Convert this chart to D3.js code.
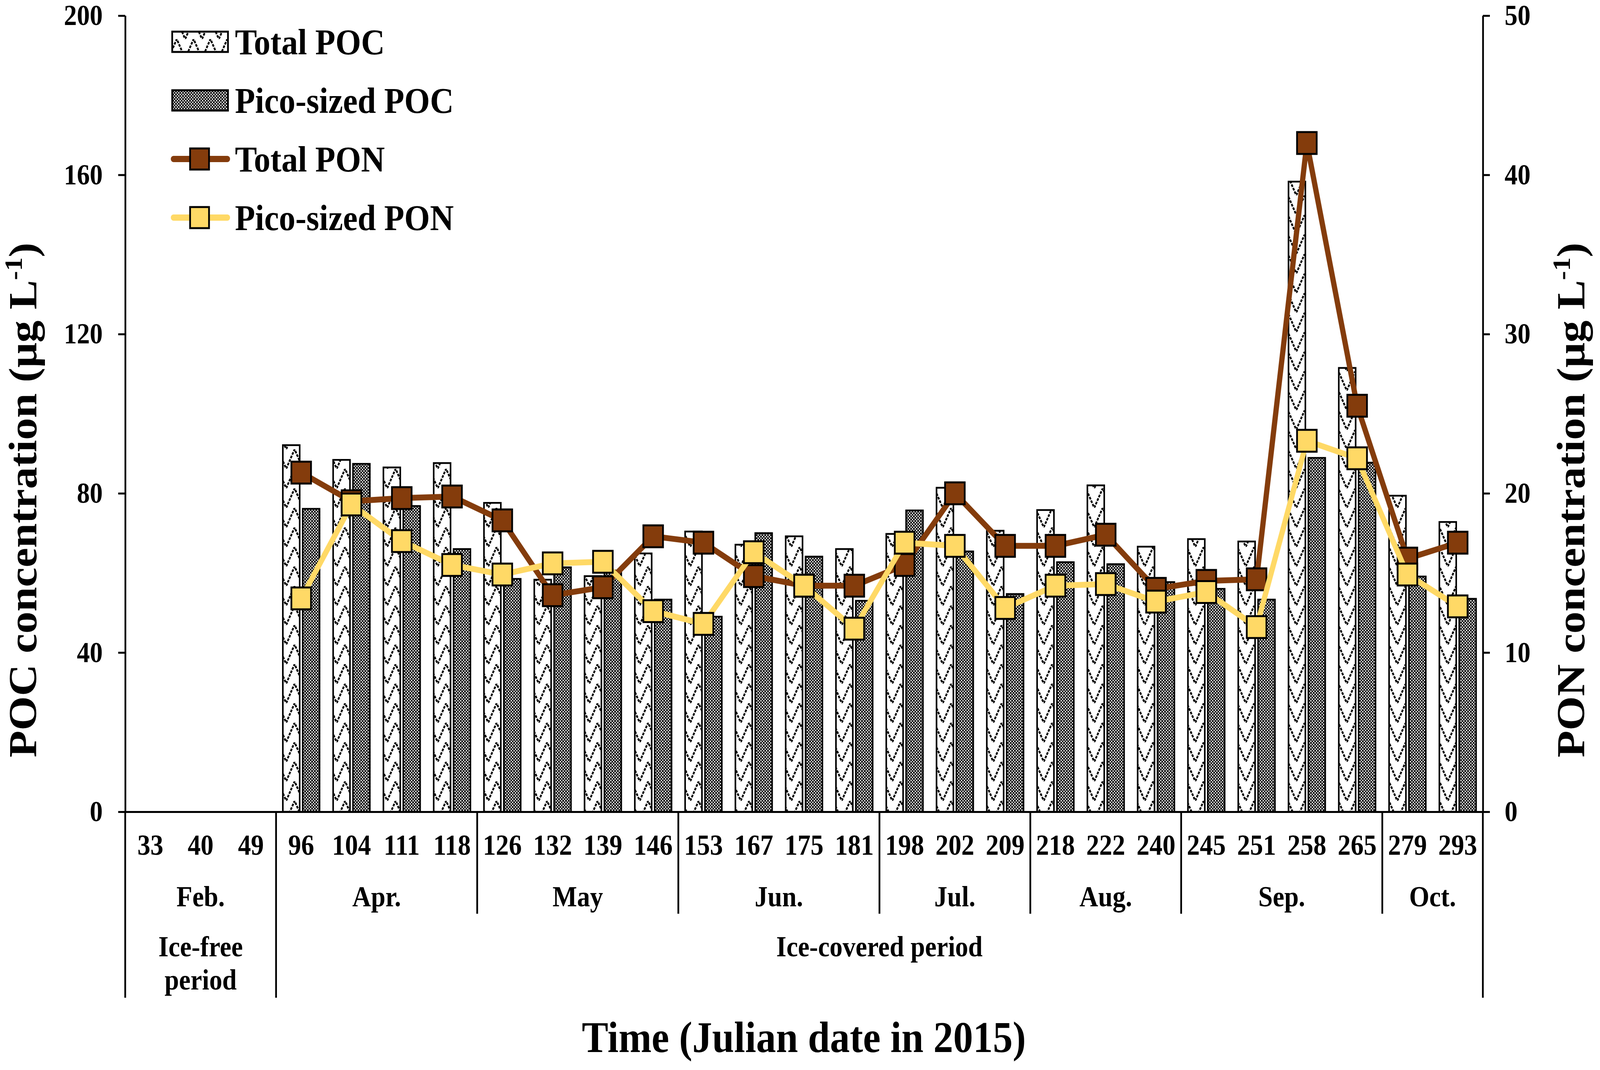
<!DOCTYPE html>
<html>
<head>
<meta charset="utf-8">
<script src="https://cdnjs.cloudflare.com/ajax/libs/d3/7.8.5/d3.min.js"></script>
<style>
  html, body { margin: 0; padding: 0; background: #fff; overflow: hidden; }
  #chart svg { display: block; width: 100vw; height: 100vh; }
  svg text { font-family: "Liberation Serif", "Times New Roman", serif; font-weight: bold; fill: #000; }
</style>
</head>
<body>
<div id="chart"></div>
<script>
// Julian dates sampled in 2015
const days = [33, 40, 49, 96, 104, 111, 118, 126, 132, 139, 146, 153, 167, 175, 181,
  198, 202, 209, 218, 222, 240, 245, 251, 258, 265, 279, 293];

// POC (ug/L), left axis; no data in February
const totalPOC = [null, null, null, 92.1, 88.4, 86.5, 87.6, 77.6, 58.3, 59.2, 64.9, 70.4, 67.1, 69.2, 66.0,
  69.8, 81.4, 70.6, 75.8, 82.0, 66.6, 68.5, 67.9, 158.3, 111.5, 79.4, 72.8];
const picoPOC = [null, null, null, 76.1, 87.4, 76.8, 66.0, 58.5, 61.4, 60.6, 53.3, 49.0, 70.0, 64.1, 53.0,
  75.7, 65.4, 54.7, 62.7, 62.2, 57.7, 56.0, 53.3, 88.9, 87.7, 59.1, 53.5];

// PON (ug/L), right axis
const totalPON = [null, null, null, 21.3, 19.5, 19.7, 19.8, 18.3, 13.6, 14.1, 17.3, 16.9, 14.8, 14.2, 14.2,
  15.5, 20.0, 16.7, 16.7, 17.4, 14.0, 14.5, 14.6, 42.0, 25.5, 15.9, 16.9];
const picoPON = [null, null, null, 13.4, 19.3, 17.0, 15.5, 14.9, 15.6, 15.7, 12.6, 11.8, 16.3, 14.2, 11.5,
  16.9, 16.7, 12.8, 14.2, 14.3, 13.2, 13.8, 11.6, 23.3, 22.2, 14.9, 12.9];

const monthLabels = ['Feb.', 'Apr.', 'May', 'Jun.', 'Jul.', 'Aug.', 'Sep.', 'Oct.'];
const monthCounts = [3, 4, 4, 4, 3, 3, 4, 2];
const periodLabels = [['Ice-free', 'period'], ['Ice-covered period']];
const periodCounts = [3, 24];

const pocTicks = [0, 40, 80, 120, 160, 200];
const ponTicks = [0, 10, 20, 30, 40, 50];

const BROWN = '#843C0C';
const YELLOW = '#FFD966';

const width = 4562;
const height = 2739;
const plotLeft = 357, plotRight = 4228, plotTop = 40, plotBottom = 2078;

// stretch the drawing to the whole window so it keeps the reference frame
const svg = d3.select('#chart')
  .append('svg')
  .attr('viewBox', `0 0 ${width} ${height}`)
  .attr('preserveAspectRatio', 'none');

// Fill patterns
const defs = svg.append('defs');

const zig = defs.append('pattern')
  .attr('id', 'zigzag')
  .attr('patternUnits', 'userSpaceOnUse')
  .attr('width', 48)
  .attr('height', 50);
zig.append('rect').attr('width', 48).attr('height', 50).attr('fill', '#fff');
zig.append('path')
  .attr('d', 'M0,50 L24,0 L48,50')
  .attr('fill', 'none')
  .attr('stroke', '#000')
  .attr('stroke-width', 5)
  .attr('stroke-dasharray', '7 3');

const dots = defs.append('pattern')
  .attr('id', 'dots')
  .attr('patternUnits', 'userSpaceOnUse')
  .attr('width', 8)
  .attr('height', 8);
dots.append('rect').attr('width', 8).attr('height', 8).attr('fill', '#000');
dots.append('rect').attr('x', 0).attr('y', 0).attr('width', 3.5).attr('height', 3.5).attr('fill', '#fff');
dots.append('rect').attr('x', 4).attr('y', 4).attr('width', 3.5).attr('height', 3.5).attr('fill', '#fff');

// Scales
const x = d3.scaleBand().domain(days).range([plotLeft, plotRight]).padding(0);
const yPOC = d3.scaleLinear().domain([0, 200]).range([plotBottom, plotTop]);
const yPON = d3.scaleLinear().domain([0, 50]).range([plotBottom, plotTop]);

const step = x.step();
const bw = step * 0.335;
const gap = step * 0.06;
const offset = (step - 2 * bw - gap) / 2;
const cx = (d) => x(d) + x.bandwidth() / 2;

const rows = days.map((d, i) => ({
  day: d, tPOC: totalPOC[i], pPOC: picoPOC[i], tPON: totalPON[i], pPON: picoPON[i],
}));

// Bars
svg.append('g')
  .selectAll('rect')
  .data(rows.filter((r) => r.tPOC != null))
  .enter()
  .append('rect')
  .attr('x', (r) => x(r.day) + offset)
  .attr('y', (r) => yPOC(r.tPOC))
  .attr('width', bw)
  .attr('height', (r) => yPOC(0) - yPOC(r.tPOC))
  .attr('fill', 'url(#zigzag)')
  .attr('stroke', '#000')
  .attr('stroke-width', 4.5);

svg.append('g')
  .selectAll('rect')
  .data(rows.filter((r) => r.pPOC != null))
  .enter()
  .append('rect')
  .attr('x', (r) => x(r.day) + offset + bw + gap)
  .attr('y', (r) => yPOC(r.pPOC))
  .attr('width', bw)
  .attr('height', (r) => yPOC(0) - yPOC(r.pPOC))
  .attr('fill', 'url(#dots)')
  .attr('stroke', '#000')
  .attr('stroke-width', 4.5);

// PON lines with square markers
const markerSize = 56;

function drawSeries(key, color) {
  const pts = rows.filter((r) => r[key] != null);
  const line = d3.line()
    .x((r) => cx(r.day))
    .y((r) => yPON(r[key]));

  const g = svg.append('g');
  g.append('path')
    .datum(pts)
    .attr('d', line)
    .attr('fill', 'none')
    .attr('stroke', color)
    .attr('stroke-width', 15)
    .attr('stroke-linejoin', 'round');

  g.selectAll('rect')
    .data(pts)
    .enter()
    .append('rect')
    .attr('x', (r) => cx(r.day) - markerSize / 2)
    .attr('y', (r) => yPON(r[key]) - markerSize / 2)
    .attr('width', markerSize)
    .attr('height', markerSize)
    .attr('fill', color)
    .attr('stroke', '#000')
    .attr('stroke-width', 5);
}

drawSeries('tPON', BROWN);
drawSeries('pPON', YELLOW);

// Axes
const axisL = svg.append('g')
  .attr('transform', `translate(${plotLeft},0)`)
  .call(d3.axisLeft(yPOC).tickValues(pocTicks).tickSize(20).tickSizeOuter(0).tickPadding(44));

const axisR = svg.append('g')
  .attr('transform', `translate(${plotRight},0)`)
  .call(d3.axisRight(yPON).tickValues(ponTicks).tickSize(20).tickSizeOuter(0).tickPadding(42));

[axisL, axisR].forEach((a) => {
  a.select('.domain').attr('stroke', '#000').attr('stroke-width', 5);
  a.selectAll('.tick line').attr('stroke', '#000').attr('stroke-width', 5);
  a.selectAll('.tick text')
    .attr('font-family', '"Liberation Serif", "Times New Roman", serif')
    .attr('font-weight', 'bold')
    .attr('font-size', 74)
    .attr('fill', '#000');
});

// Bottom axis with Julian day labels
const axisB = svg.append('g')
  .attr('transform', `translate(0,${plotBottom})`)
  .call(d3.axisBottom(x).tickSize(0).tickSizeOuter(0).tickPadding(0));

axisB.select('.domain').attr('stroke', '#000').attr('stroke-width', 5);
axisB.selectAll('.tick text')
  .attr('font-family', '"Liberation Serif", "Times New Roman", serif')
  .attr('font-weight', 'bold')
  .attr('font-size', 74)
  .attr('fill', '#000')
  .attr('dy', 0)
  .attr('y', 110);

// Month and period separators + labels
const boundaryX = (i) => (i >= days.length ? plotRight : x(days[i]));

const sep = svg.append('g').attr('stroke', '#000').attr('stroke-width', 5);

let start = 0;
const periodEdges = [0];
periodCounts.forEach((n) => { start += n; periodEdges.push(start); });

start = 0;
monthCounts.forEach((n, i) => {
  const a = start, b = start + n;
  svg.append('text')
    .attr('x', (boundaryX(a) + boundaryX(b)) / 2)
    .attr('y', 2320)
    .attr('text-anchor', 'middle')
    .attr('font-size', 74)
    .text(monthLabels[i]);
  if (a > 0 && !periodEdges.includes(a)) {
    sep.append('line')
      .attr('x1', boundaryX(a)).attr('x2', boundaryX(a))
      .attr('y1', plotBottom).attr('y2', 2339);
  }
  start = b;
});

periodEdges.forEach((i) => {
  sep.append('line')
    .attr('x1', boundaryX(i)).attr('x2', boundaryX(i))
    .attr('y1', plotBottom).attr('y2', 2554);
});

periodLabels.forEach((lines, p) => {
  const xm = (boundaryX(periodEdges[p]) + boundaryX(periodEdges[p + 1])) / 2;
  lines.forEach((t, k) => {
    svg.append('text')
      .attr('x', xm)
      .attr('y', 2448 + k * 85)
      .attr('text-anchor', 'middle')
      .attr('font-size', 74)
      .text(t);
  });
});

// Axis titles
svg.append('text')
  .attr('x', 2292)
  .attr('y', 2693)
  .attr('text-anchor', 'middle')
  .attr('font-size', 113)
  .text('Time (Julian date in 2015)');

function yTitle(xPos, label) {
  const t = svg.append('text')
    .attr('transform', `translate(${xPos},1280) rotate(-90)`)
    .attr('text-anchor', 'middle')
    .attr('font-size', 113);
  t.append('tspan').text(label + ' (μg L');
  t.append('tspan').attr('dy', -42).attr('font-size', 70).text('-1');
  t.append('tspan').attr('dy', 42).text(')');
}
yTitle(104, 'POC concentration');
yTitle(4518, 'PON concentration');

// Legend
const legend = svg.append('g');
const legendRows = [
  { label: 'Total POC', type: 'bar', fill: 'url(#zigzag)' },
  { label: 'Pico-sized POC', type: 'bar', fill: 'url(#dots)' },
  { label: 'Total PON', type: 'line', fill: BROWN },
  { label: 'Pico-sized PON', type: 'line', fill: YELLOW },
];

legendRows.forEach((r, i) => {
  const yc = 107 + i * 150;
  if (r.type === 'bar') {
    legend.append('rect')
      .attr('x', 491).attr('y', yc - 26)
      .attr('width', 159).attr('height', 52)
      .attr('fill', r.fill)
      .attr('stroke', '#000')
      .attr('stroke-width', 5);
  } else {
    legend.append('line')
      .attr('x1', 495).attr('x2', 648)
      .attr('y1', yc).attr('y2', yc)
      .attr('stroke', r.fill)
      .attr('stroke-width', 16)
      .attr('stroke-linecap', 'round');
    legend.append('rect')
      .attr('x', 569 - 27).attr('y', yc - 27)
      .attr('width', 54).attr('height', 54)
      .attr('fill', r.fill)
      .attr('stroke', '#000')
      .attr('stroke-width', 5);
  }
  legend.append('text')
    .attr('x', 670)
    .attr('y', yc + 32)
    .attr('font-size', 94)
    .text(r.label);
});
</script>
</body>
</html>
